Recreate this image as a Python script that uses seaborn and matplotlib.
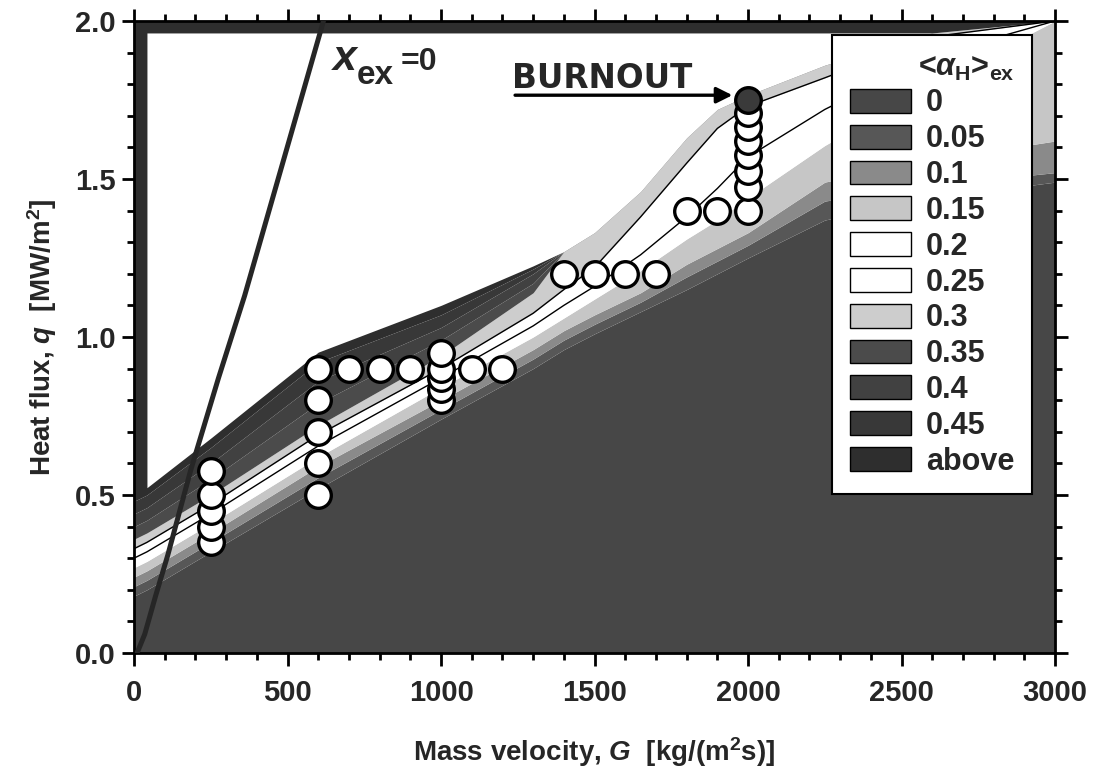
import numpy as np
import pandas as pd
import matplotlib
matplotlib.use("Agg")
import matplotlib.pyplot as plt
import seaborn as sns
from matplotlib.patches import Patch
from matplotlib.ticker import MultipleLocator, FormatStrFormatter

sns.set_theme(style="ticks")
plt.rcParams["font.family"] = ["Liberation Sans", "DejaVu Sans"]
plt.rcParams["font.weight"] = "bold"
plt.rcParams["mathtext.fontset"] = "custom"
plt.rcParams["mathtext.rm"] = "Liberation Sans:bold"
plt.rcParams["mathtext.it"] = "Liberation Sans:italic:bold"
plt.rcParams["mathtext.bf"] = "Liberation Sans:bold"

# ---------------- data ----------------
# mass velocity grid for the contour band boundaries [kg/(m2 s)]
G_grid = [0, 42, 250, 600, 1000, 1300, 1400, 1500, 1650, 1800, 1900, 2000, 2250, 2600, 3000]
# heat flux of each iso-void boundary [MW/m2]
b_005 = [0.18, 0.20, 0.32, 0.52, 0.74, 0.90, 0.96, 1.01, 1.08, 1.15, 1.20, 1.25, 1.37, 1.44, 1.49]
b_010 = [0.21, 0.23, 0.35, 0.555, 0.77, 0.93, 0.99, 1.04, 1.11, 1.19, 1.24, 1.29, 1.43, 1.48, 1.52]
b_015 = [0.24, 0.26, 0.38, 0.59, 0.80, 0.96, 1.02, 1.07, 1.14, 1.23, 1.28, 1.33, 1.49, 1.56, 1.62]
b_020 = [0.27, 0.29, 0.41, 0.62, 0.84, 1.00, 1.06, 1.12, 1.21, 1.31, 1.37, 1.44, 1.606, 1.80, 2.0]
b_025 = [0.30, 0.32, 0.44, 0.655, 0.87, 1.035, 1.10, 1.16, 1.26, 1.38, 1.47, 1.57, 1.72, 1.89, 2.0]
b_030 = [0.33, 0.35, 0.47, 0.69, 0.90, 1.075, 1.15, 1.22, 1.38, 1.55, 1.66, 1.73, 1.82, 1.95, 2.0]
b_035 = [0.36, 0.38, 0.50, 0.72, 0.94, 1.14, 1.27, 1.33, 1.46, 1.63, 1.72, 1.765, 1.86, 1.962, 2.0]
b_040 = [0.40, 0.42, 0.55, 0.79, 0.99, 1.17, 1.27, 1.33, 1.46, 1.63, 1.72, 1.765, 1.86, 1.962, 2.0]
b_045 = [0.44, 0.46, 0.60, 0.86, 1.03, 1.20, 1.27, 1.33, 1.46, 1.63, 1.72, 1.765, 1.86, 1.962, 2.0]
b_above = [0.48, 0.50, 0.65, 0.92, 1.07, 1.215, 1.27, 1.33, 1.46, 1.63, 1.72, 1.765, 1.86, 1.962, 2.0]
# lower edge of the blank (no result) region
G_blank = [42, 250, 600, 1000, 1300, 1400, 1500, 1650, 1800, 1900, 2000, 2250, 2600, 3000]
q_blank = [0.523, 0.68, 0.952, 1.10, 1.225, 1.27, 1.33, 1.46, 1.63, 1.72, 1.765, 1.86, 1.962, 2.0]
q_frame_top = 1.962

level_labels = ["0", "0.05", "0.1", "0.15", "0.2", "0.25", "0.3", "0.35", "0.4", "0.45", "above"]
level_colors = ["#474747", "#575757", "#8a8a8a", "#c6c6c6", "#ffffff", "#ffffff",
                "#cdcdcd", "#4b4b4b", "#414141", "#383838", "#2e2e2e"]

# measured points
pts_G = [250, 250, 250, 250, 250,
         600, 600, 600, 600, 600,
         700, 800, 900, 1100, 1200,
         1000, 1000, 1000, 1000, 1000,
         1400, 1500, 1600, 1700,
         1800, 1900,
         2000, 2000, 2000, 2000, 2000, 2000, 2000]
pts_q = [0.35, 0.40, 0.45, 0.50, 0.575,
         0.50, 0.60, 0.70, 0.80, 0.90,
         0.90, 0.90, 0.90, 0.90, 0.90,
         0.80, 0.835, 0.87, 0.90, 0.95,
         1.20, 1.20, 1.20, 1.20,
         1.40, 1.40,
         1.40, 1.475, 1.525, 1.575, 1.62, 1.665, 1.71]
burnout_G = [2000]
burnout_q = [1.75]

# x_ex = 0 line
xex_G = [10, 35, 70, 110, 185, 275, 360, 617]
xex_q = [0.0, 0.06, 0.18, 0.31, 0.58, 0.87, 1.13, 2.0]

# ---------------- figure ----------------
fig = plt.figure(figsize=(10.97, 7.70), dpi=100)
ax = fig.add_axes([0.1222, 0.152, 0.8396, 0.8208])

bounds = [np.zeros(len(G_grid)), b_005, b_010, b_015, b_020, b_025, b_030,
          b_035, b_040, b_045, b_above, np.full(len(G_grid), 2.0)]
bounds = [np.asarray(b, dtype=float) for b in bounds]
for k in range(11):
    ax.fill_between(G_grid, bounds[k], bounds[k + 1], color=level_colors[k],
                    linewidth=0, zorder=1)

# blank region
qb = np.asarray(q_blank)
ax.fill_between(G_blank, qb, np.maximum(qb, q_frame_top), color="white",
                linewidth=0, zorder=2)

# thin iso-lines inside the white bands
for b in (b_025, b_030):
    ax.plot(G_grid, b, color="black", lw=1.0, zorder=3)

# x_ex = 0 line
sns.lineplot(x=xex_G, y=xex_q, sort=False, color="#262626", lw=3.6, ax=ax,
             zorder=4, estimator=None)

# experimental points
df = pd.DataFrame({"G": pts_G, "q": pts_q}).sort_values(["G", "q"])
sns.scatterplot(data=df, x="G", y="q", s=340, color="white", edgecolor="black",
                linewidth=2.4, ax=ax, zorder=5, legend=False)
sns.scatterplot(x=burnout_G, y=burnout_q, s=340, color="#3a3a3a", edgecolor="black",
                linewidth=2.4, ax=ax, zorder=6, legend=False)

# annotations
ax.text(642, 1.845, r"$x$", fontsize=31, zorder=7)
ax.text(724, 1.80, "ex", fontsize=24, fontweight="bold", zorder=7)
ax.text(868, 1.846, "=0", fontsize=23, fontweight="bold", zorder=7)
ax.text(1232, 1.787, "BURNOUT", fontsize=23.5, fontweight="bold", zorder=7,
        family=["DejaVu Sans"])
ax.annotate("", xy=(1958, 1.765), xytext=(1232, 1.765),
            arrowprops=dict(arrowstyle="-|>", lw=2.4, color="black",
                            mutation_scale=24), zorder=7)

ax.set_xlim(0, 3000)
ax.set_ylim(0, 2.0)
ax.xaxis.set_major_locator(MultipleLocator(500))
ax.xaxis.set_minor_locator(MultipleLocator(100))
ax.yaxis.set_major_locator(MultipleLocator(0.5))
ax.yaxis.set_minor_locator(MultipleLocator(0.1))
ax.yaxis.set_major_formatter(FormatStrFormatter("%.1f"))
ax.tick_params(which="both", direction="out", top=True, right=True, width=2,
               color="black", labelsize=21)
ax.tick_params(which="major", length=9)
ax.tick_params(which="minor", length=5)
ax.tick_params(axis="x", which="major", pad=10)
ax.tick_params(axis="y", which="major", pad=4)
for lab in ax.get_xticklabels() + ax.get_yticklabels():
    lab.set_fontweight("bold")
for sp in ax.spines.values():
    sp.set_linewidth(2)
    sp.set_color("black")

ax.set_xlabel(r"Mass velocity, $G$  [kg/(m$^2$s)]", fontsize=20, fontweight="bold",
              labelpad=20)
ax.set_ylabel(r"Heat flux, $q$  [MW/m$^2$]", fontsize=20, fontweight="bold",
              labelpad=12)

handles = [Patch(facecolor=c, edgecolor="black", linewidth=1.0) for c in level_colors]
leg = ax.legend(handles, level_labels, title=r"<$\alpha_{\mathbf{H}}$>$_{\mathbf{ex}}$",
                loc="upper right", bbox_to_anchor=(0.975, 0.978), borderaxespad=0,
                fontsize=22, title_fontsize=22, frameon=True, fancybox=False,
                framealpha=1, edgecolor="black", handlelength=2.0, handleheight=0.82,
                labelspacing=0.19, borderpad=0.58, handletextpad=0.5,
                alignment="right")
leg.get_frame().set_linewidth(1.5)
leg.set_zorder(10)
for t in leg.get_texts():
    t.set_fontweight("bold")

fig.savefig("out.png", dpi=100)
